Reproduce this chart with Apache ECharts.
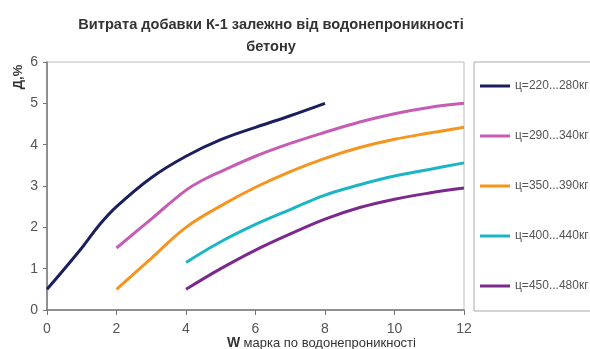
<!DOCTYPE html>
<html><head><meta charset="utf-8">
<script src="https://cdn.jsdelivr.net/npm/echarts@6/dist/echarts.min.js"></script>
<style>html,body{margin:0;padding:0;background:#fff}#c{width:590px;height:349px}</style>
</head><body><div id="c"></div>
<script>
const titleText = 'Витрата добавки К-1 залежно від водонепроникності\nбетону';
const xAxisName = 'марка по водонепроникності';
const yAxisName = 'Д,%';
const xTicks = [0, 2, 4, 6, 8, 10, 12];
const yTicks = [0, 1, 2, 3, 4, 5, 6];
const seriesNames = ['ц=220...280кг', 'ц=290...340кг', 'ц=350...390кг', 'ц=400...440кг', 'ц=450...480кг'];
const s1 = [[0,0.5],[1,1.5],[1.5,2.05],[2,2.5],[3,3.2],[4,3.72],[5,4.12],[6,4.42],[7,4.7],[8,5.0]];
const s2 = [[2,1.5],[3,2.2],[4,2.9],[4.5,3.15],[5,3.35],[6,3.72],[7,4.03],[8,4.3],[9,4.55],[10,4.75],[11,4.9],[12,5.0]];
const s3 = [[2,0.5],[3,1.25],[4,2.0],[5,2.52],[6,2.97],[7,3.35],[8,3.67],[9,3.93],[10,4.13],[11,4.28],[12,4.42]];
const s4 = [[4,1.15],[5,1.65],[6,2.07],[7,2.43],[8,2.78],[9,3.03],[10,3.24],[11,3.4],[12,3.56]];
const s5 = [[4,0.5],[5,1.0],[6,1.45],[7,1.84],[8,2.2],[9,2.48],[10,2.68],[11,2.83],[12,2.95]];
const allData = [s1, s2, s3, s4, s5];
const colors = ['#1c1f5e', '#c45db3', '#f7941d', '#1bb5c6', '#7a2a8c'];

const chart = echarts.init(document.getElementById('c'));
chart.setOption({
  animation: false,
  title: {
    text: titleText, left: 266, top: 9, textAlign: 'center',
    textStyle: { fontFamily: 'Liberation Sans', fontSize: 14.6, fontWeight: 'bold', color: '#333', lineHeight: 22 }
  },
  grid: { left: 47, right: 126, top: 62, bottom: 39, show: true, borderColor: '#bbb', borderWidth: 1,
    containLabel: false, outerBoundsMode: 'none' },
  xAxis: {
    type: 'value', min: xTicks[0], max: xTicks[xTicks.length-1], interval: 2,
    axisLine: { lineStyle: { color: '#777', width: 1.5 } },
    axisTick: { show: true, length: 5, lineStyle: { color: '#777' } },
    splitLine: { show: false },
    axisLabel: { color: '#555', fontFamily: 'Liberation Sans', fontSize: 14, margin: 12 }
  },
  yAxis: {
    type: 'value', min: yTicks[0], max: yTicks[yTicks.length-1], interval: 1,
    axisLine: { show: true, lineStyle: { color: '#777', width: 1.5 } },
    axisTick: { show: true, length: 4, lineStyle: { color: '#777' } },
    splitLine: { show: false },
    axisLabel: { color: '#555', fontFamily: 'Liberation Sans', fontSize: 14, margin: 9 }
  },
  legend: {
    orient: 'vertical', left: 480, top: 80, itemGap: 38, padding: 0,
    itemWidth: 30, itemHeight: 3, icon: 'rect',
    textStyle: { fontFamily: 'Liberation Sans', fontSize: 12, color: '#555' },
    data: seriesNames
  },
  graphic: [{
    type: 'rect', shape: { x: 474, y: 62, width: 130, height: 249 },
    style: { fill: 'none', stroke: '#aaa', lineWidth: 1 }, z: -1
  }, {
    type: 'text', x: 227, y: 343,
    style: { text: '{b|W} {n|' + xAxisName + '}', verticalAlign: 'middle', align: 'left',
      rich: {
        b: { fontFamily: 'Liberation Sans', fontSize: 14, fontWeight: 'bold', fill: '#333' },
        n: { fontFamily: 'Liberation Sans', fontSize: 13, fill: '#333' } } }
  }, {
    type: 'text', x: 18, y: 77, rotation: Math.PI / 2,
    style: { text: yAxisName, align: 'center', verticalAlign: 'middle',
      font: 'bold 13px "Liberation Sans"', fill: '#333' }
  }],
  series: seriesNames.map((n, i) => ({
    name: n, type: 'line', smooth: 0.4, showSymbol: false, data: allData[i],
    lineStyle: { color: colors[i], width: 3 }, itemStyle: { color: colors[i] }
  }))
});
</script></body></html>
